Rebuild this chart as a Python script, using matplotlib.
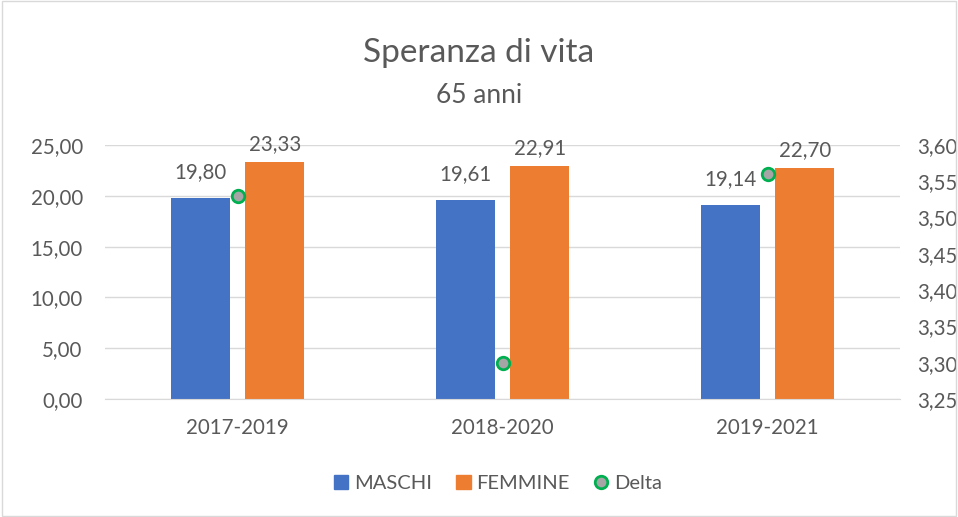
import numpy as np
import matplotlib.pyplot as plt
from matplotlib.lines import Line2D
from matplotlib.patches import Patch

plt.rcParams['font.family'] = ['Lato', 'DejaVu Sans']

periods = ['2017-2019', '2018-2020', '2019-2021']
maschi = [19.80, 19.61, 19.14]
femmine = [23.33, 22.91, 22.70]
delta = [3.53, 3.30, 3.56]

left_ticks = [0, 5, 10, 15, 20, 25]
right_ticks = [3.25, 3.30, 3.35, 3.40, 3.45, 3.50, 3.55, 3.60]

text_col = '#595959'
grid_col = '#D9D9D9'
fs = 14.8


def fmt(v, nd=2):
    return f"{v:.{nd}f}".replace('.', ',')


fig = plt.figure(figsize=(9.58, 5.17), dpi=100)
ax = fig.add_axes([0.1096, 0.2282, 0.83, 0.4913])
ax2 = ax.twinx()

x = np.arange(len(periods))
w = 0.223
off = 0.14
b1 = ax.bar(x - off, maschi, w, color='#4472C4', zorder=2)
b2 = ax.bar(x + off, femmine, w, color='#ED7D31', zorder=2)

for rect, v in zip(b1, maschi):
    ax.annotate(fmt(v), (rect.get_x() + rect.get_width() / 2, v),
                xytext=(0, 11), textcoords='offset points',
                ha='center', va='bottom', fontsize=fs, color=text_col)
for rect, v in zip(b2, femmine):
    ax.annotate(fmt(v), (rect.get_x() + rect.get_width() / 2, v),
                xytext=(0, 6), textcoords='offset points',
                ha='center', va='bottom', fontsize=fs, color=text_col)

ax2.plot(x, delta, linestyle='none', marker='o', markersize=9,
         markerfacecolor='#A5A5A5', markeredgecolor='#00B050',
         markeredgewidth=2, zorder=5)

ax.set_xlim(-0.5, 2.5)
ax.set_ylim(0, 25)
ax2.set_ylim(3.25, 3.60)
ax.set_yticks(left_ticks)
ax.set_yticklabels([fmt(t) for t in left_ticks])
ax2.set_yticks(right_ticks)
ax2.set_yticklabels([fmt(t) for t in right_ticks])
ax.set_xticks(x)
ax.set_xticklabels(periods)

ax.grid(axis='y', color=grid_col, linewidth=1, zorder=0)
ax.set_axisbelow(True)
for a in (ax, ax2):
    for s in a.spines.values():
        s.set_visible(False)
    a.tick_params(length=0, labelsize=fs, colors=text_col)
ax.spines['bottom'].set_visible(True)
ax.spines['bottom'].set_color(grid_col)
ax.tick_params(axis='y', pad=16)
ax.tick_params(axis='x', pad=14)
ax2.tick_params(axis='y', pad=12)

fig.text(0.5, 0.897, 'Speranza di vita', ha='center', va='center',
         fontsize=24, color=text_col)
fig.text(0.5, 0.815, '65 anni', ha='center', va='center',
         fontsize=19, color=text_col)

handles = [Patch(color='#4472C4', label='MASCHI'),
           Patch(color='#ED7D31', label='FEMMINE'),
           Line2D([], [], linestyle='none', marker='o', markersize=9,
                  markerfacecolor='#A5A5A5', markeredgecolor='#00B050',
                  markeredgewidth=2, label='Delta')]
leg = fig.legend(handles=handles, loc='center', bbox_to_anchor=(0.52, 0.065),
                 ncol=3, frameon=False, fontsize=14.5, handlelength=0.7,
                 handleheight=0.7, handletextpad=0.3, columnspacing=1.2)
for t in leg.get_texts():
    t.set_color(text_col)

# thin border around the chart area
border = plt.Rectangle((0.002, 0.002), 0.996, 0.996, transform=fig.transFigure,
                       fill=False, edgecolor='#D9D9D9', linewidth=1)
fig.patches.append(border)

fig.savefig('out.png', dpi=100)
